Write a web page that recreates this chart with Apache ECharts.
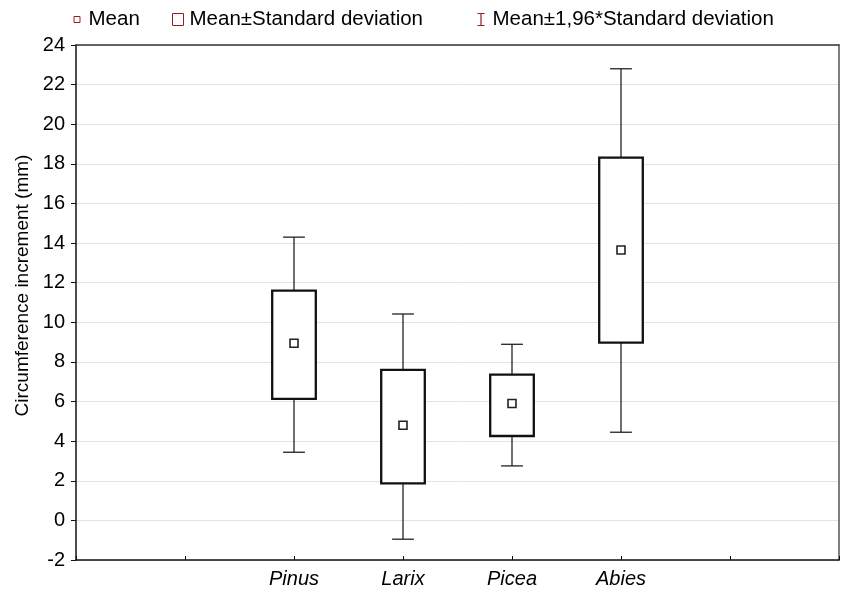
<!DOCTYPE html>
<html>
<head>
<meta charset="utf-8">
<script src="https://cdn.jsdelivr.net/npm/echarts@6/dist/echarts.min.js"></script>
<style>
  html, body { margin: 0; padding: 0; background: #fff; }
  #chart { width: 842px; height: 590px; }
</style>
</head>
<body>
<div id="chart"></div>
<script>
// x slots: two empty on the left, two on the right, like the original plot
const xSlots = ['', '', 'Pinus', 'Larix', 'Picea', 'Abies', '', ''];
const species = ['Pinus', 'Larix', 'Picea', 'Abies'];
const means = [8.94, 4.8, 5.9, 13.65];
const sdLow = [6.13, 1.87, 4.26, 8.97];
const sdHigh = [11.6, 7.6, 7.36, 18.31];
const ciLow = [3.44, -0.95, 2.75, 4.45];
const ciHigh = [14.3, 10.42, 8.89, 22.8];
const yTicks = { min: -2, max: 24, step: 2 };

const legendColor = '#9b1c1c';
const font = 'Liberation Sans, Arial, sans-serif';

function whiskerItem(params, api) {
  const x = api.value(0);
  const top = api.coord([x, api.value(2)]);
  const bot = api.coord([x, api.value(1)]);
  const cap = api.size([1, 0])[0] * 0.2 / 2;
  const style = { stroke: '#222', lineWidth: 1.3 };
  return {
    type: 'group',
    children: [
      { type: 'line', shape: { x1: top[0], y1: top[1], x2: bot[0], y2: bot[1] }, style },
      { type: 'line', shape: { x1: top[0] - cap, y1: top[1], x2: top[0] + cap, y2: top[1] }, style },
      { type: 'line', shape: { x1: bot[0] - cap, y1: bot[1], x2: bot[0] + cap, y2: bot[1] }, style }
    ]
  };
}

function boxItem(params, api) {
  const x = api.value(0);
  const top = api.coord([x, api.value(2)]);
  const bot = api.coord([x, api.value(1)]);
  const w = api.size([1, 0])[0] * 0.4;
  return {
    type: 'rect',
    shape: { x: top[0] - w / 2, y: top[1], width: w, height: bot[1] - top[1] },
    style: { fill: '#fff', stroke: '#111', lineWidth: 2.3 }
  };
}

function meanItem(params, api) {
  const p = api.coord([api.value(0), api.value(1)]);
  const s = 8;
  return {
    type: 'rect',
    shape: { x: p[0] - s / 2, y: p[1] - s / 2, width: s, height: s },
    style: { fill: '#fff', stroke: '#222', lineWidth: 1.6 }
  };
}

function legendAt(left, item) {
  return {
    top: 4,
    left: left,
    itemWidth: 13,
    itemHeight: 13,
    selectedMode: false,
    textStyle: { fontSize: 20.5, color: '#000', fontFamily: font },
    data: [item]
  };
}

const chart = echarts.init(document.getElementById('chart'));
chart.setOption({
  animation: false,
  textStyle: { fontFamily: font },
  legend: [
    legendAt(65, {
      name: 'Mean',
      icon: 'path://M0,0 M13,13 M3.5,3.5 h6 v6 h-6 z',
      itemStyle: { color: '#fff', borderColor: legendColor, borderWidth: 1 }
    }),
    legendAt(166, {
      name: 'Mean±Standard deviation',
      icon: 'path://M0,0 M13,13 M1,0.5 h11 v12 h-11 z',
      itemStyle: { color: '#fff', borderColor: legendColor, borderWidth: 1 }
    }),
    legendAt(467, {
      name: 'Mean±1,96*Standard deviation',
      icon: 'path://M0,0 M13,13 M3,0.5 h7 M6.5,0.5 v12 M3,12.5 h7',
      itemStyle: { color: 'none', borderColor: legendColor, borderWidth: 1.2 }
    })
  ],
  grid: { left: 76, right: 1, top: 45, bottom: 30 },
  xAxis: [
    {
      type: 'category',
      data: xSlots,
      boundaryGap: false,
      axisLine: { onZero: false, lineStyle: { color: '#111', width: 1.5 } },
      axisTick: { inside: true, length: 4, lineStyle: { color: '#111' } },
      axisLabel: { fontSize: 20, fontStyle: 'italic', color: '#000', margin: 9, interval: 0 },
      splitLine: { show: false }
    },
    {
      type: 'category',
      position: 'top',
      data: xSlots,
      boundaryGap: false,
      axisLine: { onZero: false, lineStyle: { color: '#333', width: 1.5 } },
      axisTick: { show: false },
      axisLabel: { show: false }
    }
  ],
  yAxis: [
    {
      type: 'value',
      min: yTicks.min,
      max: yTicks.max,
      interval: yTicks.step,
      name: 'Circumference increment (mm)',
      nameLocation: 'middle',
      nameGap: 41,
      nameTextStyle: { fontSize: 19, color: '#000', padding: [0, 0, 0, 34] },
      axisLine: { show: true, onZero: false, lineStyle: { color: '#111', width: 1.5 } },
      axisTick: { show: true, length: 5, lineStyle: { color: '#111' } },
      axisLabel: { fontSize: 20, color: '#000', margin: 11 },
      splitLine: { lineStyle: { color: '#e2e2e2', width: 1 } }
    },
    {
      type: 'value',
      position: 'right',
      min: yTicks.min,
      max: yTicks.max,
      interval: yTicks.step,
      axisLine: { show: true, onZero: false, lineStyle: { color: '#555', width: 1.5 } },
      axisTick: { show: false },
      axisLabel: { show: false },
      splitLine: { show: false }
    }
  ],
  series: [
    {
      name: 'Mean±1,96*Standard deviation',
      type: 'custom',
      renderItem: whiskerItem,
      encode: { x: 0, y: [1, 2] },
      z: 2,
      data: species.map((s, i) => [s, ciLow[i], ciHigh[i]])
    },
    {
      name: 'Mean±Standard deviation',
      type: 'custom',
      renderItem: boxItem,
      encode: { x: 0, y: [1, 2] },
      z: 3,
      data: species.map((s, i) => [s, sdLow[i], sdHigh[i]])
    },
    {
      name: 'Mean',
      type: 'custom',
      renderItem: meanItem,
      encode: { x: 0, y: 1 },
      z: 4,
      data: species.map((s, i) => [s, means[i]])
    }
  ]
});
</script>
</body>
</html>
